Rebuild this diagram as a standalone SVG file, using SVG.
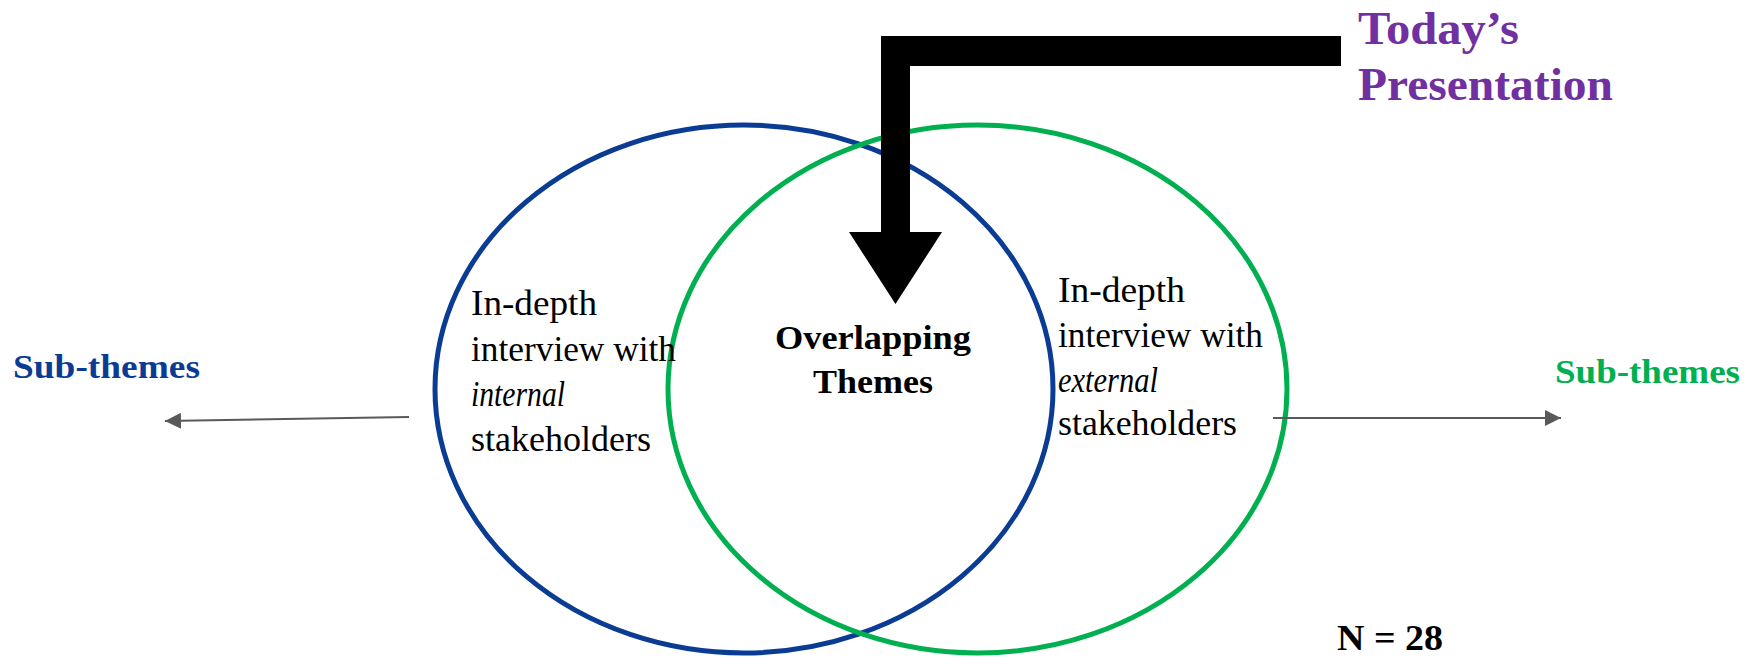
<svg xmlns="http://www.w3.org/2000/svg" width="1760" height="657" viewBox="0 0 1760 657">
<style>
.body{font-family:"Liberation Serif","Times New Roman",serif;font-size:35px;fill:#000}
.bold{font-family:"Liberation Serif","Times New Roman",serif;font-weight:bold}
.ell{fill:none;stroke-width:5}
.conn{stroke:#595959;stroke-width:2;fill:none}
</style>
<defs>
<marker id="ah" markerUnits="userSpaceOnUse" markerWidth="16" markerHeight="16" refX="16" refY="8" orient="auto">
<path d="M0,0 L16,8 L0,16 Z" fill="#595959"/>
</marker>
</defs>
<rect width="1760" height="657" fill="#fff"/>
<g id="internal-circle">
<ellipse class="ell" cx="744" cy="389" rx="309" ry="264" stroke="#0B3C93"/>
</g>
<g id="external-circle">
<ellipse class="ell" cx="977.5" cy="389" rx="309.5" ry="264" stroke="#00B050"/>
</g>
<g id="internal-text">
<text class="body" x="471" y="315" textLength="126" lengthAdjust="spacingAndGlyphs">In-depth</text>
<text class="body" x="471" y="361" textLength="205" lengthAdjust="spacingAndGlyphs">interview with</text>
<text class="body" x="471" y="406" font-style="italic" textLength="94" lengthAdjust="spacingAndGlyphs">internal</text>
<text class="body" x="471" y="451" textLength="180" lengthAdjust="spacingAndGlyphs">stakeholders</text>
</g>
<g id="external-text">
<text class="body" x="1058" y="302" textLength="127" lengthAdjust="spacingAndGlyphs">In-depth</text>
<text class="body" x="1058" y="347" textLength="205" lengthAdjust="spacingAndGlyphs">interview with</text>
<text class="body" x="1058" y="392" font-style="italic" textLength="100" lengthAdjust="spacingAndGlyphs">external</text>
<text class="body" x="1058" y="435" textLength="179" lengthAdjust="spacingAndGlyphs">stakeholders</text>
</g>
<g id="overlap-text">
<text class="bold" x="775" y="349" font-size="34" textLength="196" lengthAdjust="spacingAndGlyphs">Overlapping</text>
<text class="bold" x="813" y="393" font-size="34" textLength="120" lengthAdjust="spacingAndGlyphs">Themes</text>
</g>
<g id="sub-themes-left">
<text class="bold" x="13" y="378" font-size="33" fill="#0B3C93" textLength="187" lengthAdjust="spacingAndGlyphs">Sub-themes</text>
</g>
<g id="sub-themes-right">
<text class="bold" x="1555" y="383" font-size="33" fill="#00B050" textLength="185" lengthAdjust="spacingAndGlyphs">Sub-themes</text>
</g>
<g id="todays-presentation">
<text class="bold" x="1358" y="44" font-size="46" fill="#7030A0" textLength="161" lengthAdjust="spacingAndGlyphs">Today’s</text>
<text class="bold" x="1358" y="100" font-size="46" fill="#7030A0" textLength="255" lengthAdjust="spacingAndGlyphs">Presentation</text>
</g>
<g id="n-label">
<text class="bold" x="1337" y="650" font-size="36" textLength="106" lengthAdjust="spacingAndGlyphs">N = 28</text>
</g>
<g id="connectors">
<path id="presentation-arrow" d="M1341,36 L881,36 L881,232 L849,232 L895.5,304 L942,232 L910,232 L910,66 L1341,66 Z" fill="#000"/>
<line class="conn" x1="409" y1="417" x2="165" y2="421" marker-end="url(#ah)"/>
<line class="conn" x1="1273" y1="418" x2="1561" y2="418" marker-end="url(#ah)"/>
</g>
</svg>
